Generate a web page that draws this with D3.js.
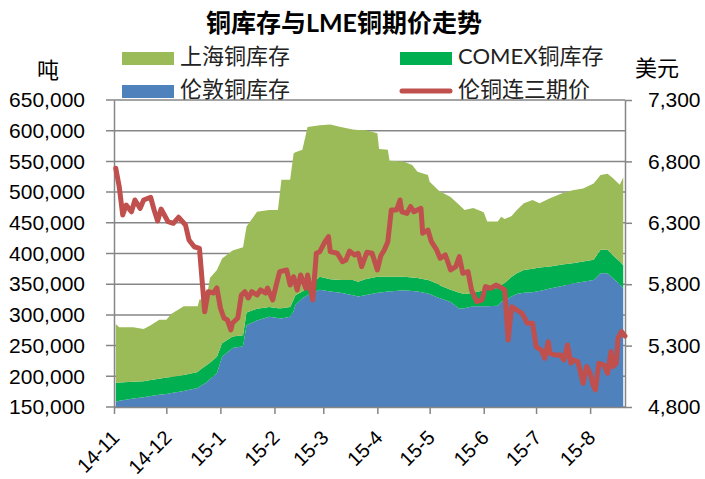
<!DOCTYPE html>
<html lang="zh">

<head>
    <meta charset="UTF-8">
    <title>铜库存与LME铜期价走势</title>
    <style>
        body {
            margin: 0;
            background: #fff;
        }

        svg {
            display: block;
            font-family: Lato, "Noto Sans CJK SC", sans-serif;
        }
    </style>
</head>

<body>
    <script src="https://cdn.jsdelivr.net/npm/d3@7"></script>
    <script>
        // 1. les données

        // stocks (tonnes) : Londres en bas, COMEX au milieu, Shanghai en haut
        const datesStock = ['2014-11-02', '2014-11-04', '2014-11-12', '2014-11-18', '2014-11-22', '2014-11-27',
            '2014-12-01', '2014-12-04', '2014-12-11', '2014-12-19', '2014-12-20', '2014-12-24', '2014-12-26', '2014-12-30',
            '2015-01-02', '2015-01-08', '2015-01-14', '2015-01-16', '2015-01-22', '2015-01-29',
            '2015-02-03', '2015-02-05', '2015-02-10', '2015-02-12', '2015-02-13', '2015-02-17', '2015-02-20', '2015-02-27',
            '2015-03-05', '2015-03-11', '2015-03-18', '2015-03-21', '2015-03-25',
            '2015-04-01', '2015-04-02', '2015-04-07', '2015-04-08', '2015-04-16', '2015-04-21', '2015-04-24', '2015-04-30',
            '2015-05-01', '2015-05-06', '2015-05-07', '2015-05-13', '2015-05-18', '2015-05-21', '2015-05-26',
            '2015-06-01', '2015-06-03', '2015-06-09', '2015-06-11', '2015-06-13', '2015-06-17', '2015-06-20', '2015-06-24', '2015-06-29',
            '2015-07-03', '2015-07-09', '2015-07-16', '2015-07-22', '2015-07-28',
            '2015-08-03', '2015-08-07', '2015-08-11', '2015-08-14', '2015-08-18', '2015-08-20']

        const stockLondres = [158000, 160000, 164000, 166000, 168000, 170000,
            171000, 173000, 176000, 181000, 183000, 190000, 195000, 205000,
            232000, 246000, 249000, 283000, 291000, 297000,
            295000, 294000, 297000, 306000, 316000, 327000, 332000, 341000,
            338000, 336000, 332000, 330000, 332000,
            336000, 336000, 338000, 338000, 340000, 339000, 338000, 335000,
            334000, 328000, 327000, 321000, 310000, 311000, 314000,
            314000, 314000, 315000, 321000, 323000, 330000, 334000, 336000, 337000,
            339000, 343000, 347000, 351000, 354000,
            357000, 368000, 368000, 360000, 350000, 343000]

        const stockComex = [31000, 30000, 27000, 26000, 26000, 26000,
            27000, 26000, 26000, 26000, 27000, 28000, 27000, 27000,
            22000, 19000, 18000, 21000, 19000, 16000,
            16000, 17000, 16000, 19000, 16000, 11000, 13000, 21000,
            20000, 21000, 25000, 24000, 26000,
            26000, 26000, 24000, 24000, 22000, 22000, 22000, 22000,
            22000, 22000, 21000, 20000, 26000, 23000, 22000,
            26000, 28000, 29000, 27000, 29000, 32000, 34000, 37000, 38000,
            38000, 36000, 35000, 33000, 33000,
            33000, 38000, 38000, 37000, 37000, 38000]

        const stockShanghai = [96000, 90000, 89000, 85000, 89000, 96000,
            94000, 103000, 112000, 107000, 115000, 107000, 138000, 141000,
            138000, 140000, 143000, 140000, 158000, 158000,
            160000, 209000, 207000, 238000, 233000, 231000, 261000, 247000,
            252000, 249000, 245000, 247000, 243000,
            234000, 208000, 207000, 189000, 188000, 183000, 173000, 171000,
            161000, 153000, 153000, 151000, 143000, 137000, 138000,
            127000, 110000, 108000, 112000, 104000, 99000, 103000, 109000, 112000,
            105000, 111000, 116000, 119000, 119000,
            124000, 122000, 124000, 126000, 125000, 143000]

        // prix LME 3 mois (dollars)
        const datesPrix = ['2014-11-02', '2014-11-04', '2014-11-06', '2014-11-08', '2014-11-11', '2014-11-13', '2014-11-16',
            '2014-11-18', '2014-11-22', '2014-11-24', '2014-11-26', '2014-11-28',
            '2014-12-02', '2014-12-05', '2014-12-08', '2014-12-12', '2014-12-14', '2014-12-17', '2014-12-20', '2014-12-23',
            '2014-12-25', '2014-12-28', '2014-12-30',
            '2015-01-01', '2015-01-03', '2015-01-05', '2015-01-07', '2015-01-08', '2015-01-11', '2015-01-13', '2015-01-15',
            '2015-01-17', '2015-01-19', '2015-01-22', '2015-01-24', '2015-01-27', '2015-01-28', '2015-01-31',
            '2015-02-02', '2015-02-04', '2015-02-08', '2015-02-10', '2015-02-12', '2015-02-14', '2015-02-16', '2015-02-19',
            '2015-02-20', '2015-02-23', '2015-02-25', '2015-02-27',
            '2015-03-02', '2015-03-04', '2015-03-05', '2015-03-09', '2015-03-12', '2015-03-14', '2015-03-16', '2015-03-19',
            '2015-03-21', '2015-03-23', '2015-03-26', '2015-03-29',
            '2015-04-01', '2015-04-03', '2015-04-05', '2015-04-07', '2015-04-09', '2015-04-12', '2015-04-14', '2015-04-15',
            '2015-04-18', '2015-04-20', '2015-04-22', '2015-04-26', '2015-04-27', '2015-04-30',
            '2015-05-02', '2015-05-05', '2015-05-07', '2015-05-10', '2015-05-13', '2015-05-16', '2015-05-18', '2015-05-20',
            '2015-05-23', '2015-05-25', '2015-05-28', '2015-05-31',
            '2015-06-02', '2015-06-05', '2015-06-08', '2015-06-10', '2015-06-13', '2015-06-15', '2015-06-17', '2015-06-20',
            '2015-06-23', '2015-06-26', '2015-06-29',
            '2015-07-01', '2015-07-04', '2015-07-06', '2015-07-08', '2015-07-09', '2015-07-12', '2015-07-15', '2015-07-17',
            '2015-07-19', '2015-07-21', '2015-07-22', '2015-07-25', '2015-07-28', '2015-07-30',
            '2015-08-01', '2015-08-03', '2015-08-04', '2015-08-06', '2015-08-09', '2015-08-11', '2015-08-13', '2015-08-14',
            '2015-08-16', '2015-08-17', '2015-08-19', '2015-08-21']

        const prixLME = [6744, 6594, 6364, 6445, 6390, 6486, 6418,
            6486, 6508, 6404, 6315, 6412,
            6309, 6296, 6345, 6282, 6160, 6105, 6092, 5576,
            5739, 5728, 5769,
            5606, 5525, 5509, 5427, 5484, 5525, 5712, 5739,
            5688, 5739, 5712, 5753, 5728, 5769, 5672,
            5793, 5902, 5916, 5793, 5861, 5753, 5875, 5767,
            5875, 5672, 6052, 6065,
            6146, 6187, 6065, 6052, 5983, 5997, 6070, 6038,
            6052, 5943, 6060, 6052,
            5916, 6032, 6079, 6146, 6404, 6404, 6486, 6390,
            6377, 6432, 6390, 6418, 6215, 6241,
            6146, 6079, 6011, 6038, 5916, 5943, 6024, 5889,
            5902, 5753, 5658, 5672,
            5780, 5767, 5793, 5780, 5753, 5346, 5617, 5590,
            5563, 5482, 5482,
            5291, 5264, 5197, 5332, 5237, 5223, 5223, 5183,
            5305, 5156, 5183, 5170, 4993, 5129,
            5075, 4966, 4939, 5156, 5142, 5075, 5251, 5129,
            5156, 5360, 5414, 5378]

        // graduations
        const ticksGauche = [150000, 200000, 250000, 300000, 350000, 400000, 450000, 500000, 550000, 600000, 650000]
        const ticksDroite = [4800, 5300, 5800, 6300, 6800, 7300]
        const ticksMois = ['2014-11-01', '2014-12-01', '2015-01-01', '2015-02-01', '2015-03-01',
            '2015-04-01', '2015-05-01', '2015-06-01', '2015-07-01', '2015-08-01']

        // 2. préparer les tableaux
        const lireDate = d3.timeParse('%Y-%m-%d')

        const tableStock = datesStock.map((d, i) => ({
            date: lireDate(d),
            londres: stockLondres[i],
            comex: stockComex[i],
            shanghai: stockShanghai[i]
        }))

        const tablePrix = datesPrix.map((d, i) => ({ date: lireDate(d), prix: prixLME[i] }))

        const couches = d3.stack().keys(['londres', 'comex', 'shanghai'])(tableStock)
        const couleurs = { londres: '#4F81BD', comex: '#00B050', shanghai: '#9BBB59' }

        // 3. le canevas et les échelles
        const largeur = 705, hauteur = 479
        const marge = { haut: 100, droite: 80, bas: 72, gauche: 114 }

        const canevas = d3.select('body')
            .append('svg')
            .attr('width', largeur)
            .attr('height', hauteur)

        const echelleX = d3.scaleTime()
            .domain([lireDate('2014-11-01'), lireDate('2015-08-21')])
            .range([marge.gauche, largeur - marge.droite])

        const echelleStock = d3.scaleLinear()
            .domain([150000, 650000])
            .range([hauteur - marge.bas, marge.haut])
            .clamp(true)

        const echellePrix = d3.scaleLinear()
            .domain([4800, 7300])
            .range([hauteur - marge.bas, marge.haut])

        const gris = '#868686'

        // 4. quadrillage
        canevas.append('g').selectAll('line')
            .data(ticksGauche)
            .enter()
            .append('line')
            .attr('x1', marge.gauche - 8)
            .attr('x2', largeur - marge.droite)
            .attr('y1', d => echelleStock(d))
            .attr('y2', d => echelleStock(d))
            .attr('stroke', gris)
            .attr('stroke-width', 1.5)

        // 5. les aires empilées
        const aire = d3.area()
            .x(d => echelleX(d.data.date))
            .y0(d => echelleStock(d[0]))
            .y1(d => echelleStock(d[1]))

        canevas.append('g').selectAll('path')
            .data(couches)
            .enter()
            .append('path')
            .attr('d', aire)
            .attr('fill', d => couleurs[d.key])

        // 6. les axes
        const styliser = g => {
            g.selectAll('.domain, .tick line').attr('stroke', gris).attr('stroke-width', 1.5)
            g.selectAll('text').attr('fill', '#000').attr('font-size', 21)
        }

        canevas.append('g')
            .attr('transform', `translate(${marge.gauche},0)`)
            .call(d3.axisLeft(echelleStock).tickValues(ticksGauche).tickSize(0).tickPadding(29)
                .tickFormat(d3.format(',')))
            .call(styliser)

        canevas.append('g')
            .attr('transform', `translate(${largeur - marge.droite},0)`)
            .call(d3.axisRight(echellePrix).tickValues(ticksDroite).tickSize(7).tickSizeOuter(0).tickPadding(16)
                .tickFormat(d3.format(',')))
            .call(styliser)

        const axeX = canevas.append('g')
            .attr('transform', `translate(0,${hauteur - marge.bas})`)
            .call(d3.axisBottom(echelleX).tickValues(ticksMois.map(lireDate)).tickSize(7).tickSizeOuter(0)
                .tickFormat(d3.timeFormat('%y-%-m')))
            .call(styliser)

        // étiquettes inclinées
        axeX.selectAll('text')
            .attr('text-anchor', 'end')
            .attr('font-size', 20)
            .attr('y', 0)
            .attr('dy', 0)
            .attr('transform', 'translate(6,32) rotate(-45)')

        // 7. la courbe du prix
        const ligne = d3.line()
            .x(d => echelleX(d.date))
            .y(d => echellePrix(d.prix))

        canevas.append('path')
            .datum(tablePrix)
            .attr('d', ligne)
            .attr('fill', 'none')
            .attr('stroke', '#C0504D')
            .attr('stroke-width', 5)
            .attr('stroke-linejoin', 'round')
            .attr('stroke-linecap', 'round')

        // 8. titre, unités et légende
        canevas.append('text')
            .attr('x', 344)
            .attr('y', 32)
            .attr('text-anchor', 'middle')
            .attr('font-size', 25)
            .attr('font-weight', 'bold')
            .text('铜库存与LME铜期价走势')

        canevas.append('text')
            .attr('x', 48).attr('y', 78)
            .attr('text-anchor', 'middle')
            .attr('font-size', 22)
            .text('吨')

        canevas.append('text')
            .attr('x', 657).attr('y', 76)
            .attr('text-anchor', 'middle')
            .attr('font-size', 22)
            .text('美元')

        const legende = [
            { cle: 'shanghai', texte: '上海铜库存', x: 122, y: 52 },
            { cle: 'comex', texte: 'COMEX铜库存', x: 400, y: 52 },
            { cle: 'londres', texte: '伦敦铜库存', x: 122, y: 85 },
            { cle: 'prix', texte: '伦铜连三期价', x: 400, y: 85 }
        ]

        const items = canevas.append('g').selectAll('g')
            .data(legende)
            .enter()
            .append('g')
            .attr('transform', d => `translate(${d.x},${d.y})`)

        items.filter(d => d.cle !== 'prix')
            .append('rect')
            .attr('width', 52)
            .attr('height', 13)
            .attr('fill', d => couleurs[d.cle])

        items.filter(d => d.cle === 'prix')
            .append('line')
            .attr('x1', 2).attr('x2', 50)
            .attr('y1', 6).attr('y2', 6)
            .attr('stroke', '#C0504D')
            .attr('stroke-width', 5)
            .attr('stroke-linecap', 'round')

        items.append('text')
            .attr('x', 58)
            .attr('y', 12)
            .attr('font-size', 22)
            .attr('fill', '#222')
            .text(d => d.texte)
    </script>
</body>

</html>
